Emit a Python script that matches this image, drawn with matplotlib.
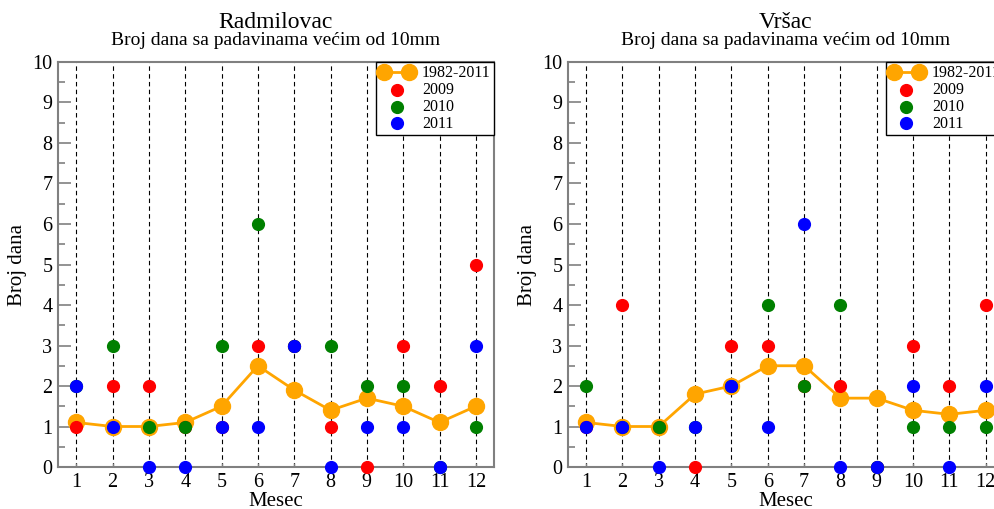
import matplotlib
matplotlib.use('Agg')
import matplotlib.pyplot as plt

plt.rcParams['font.family'] = ['Liberation Serif', 'DejaVu Serif']

months = [1, 2, 3, 4, 5, 6, 7, 8, 9, 10, 11, 12]

# Radmilovac
rad_avg = [1.1, 1.0, 1.0, 1.1, 1.5, 2.5, 1.9, 1.4, 1.7, 1.5, 1.1, 1.5]
rad_2009 = [1, 2, 2, 1, 1, 3, 3, 1, 0, 3, 2, 5]
rad_2010 = [2, 3, 1, 1, 3, 6, 3, 3, 2, 2, 0, 1]
rad_2011 = [2, 1, 0, 0, 1, 1, 3, 0, 1, 1, 0, 3]

# Vrsac
vrs_avg = [1.1, 1.0, 1.0, 1.8, 2.0, 2.5, 2.5, 1.7, 1.7, 1.4, 1.3, 1.4]
vrs_2009 = [1, 4, 1, 0, 3, 3, 2, 2, 0, 3, 2, 4]
vrs_2010 = [2, 1, 1, 1, 2, 4, 2, 4, 0, 1, 1, 1]
vrs_2011 = [1, 1, 0, 1, 2, 1, 6, 0, 0, 2, 0, 2]

subtitle = 'Broj dana sa padavinama većim od 10mm'

fig = plt.figure(figsize=(9.94, 5.09), dpi=100)
ax1 = fig.add_axes([0.0584, 0.0825, 0.4386, 0.7957])
ax2 = fig.add_axes([0.5714, 0.0825, 0.4386, 0.7957])


def draw(ax, name, avg, y09, y10, y11):
    for m in months:
        ax.axvline(m, color='black', ls=(0, (4, 3)), lw=0.8, zorder=1)
    ax.plot(months, avg, color='orange', lw=2, marker='o', ms=11.5,
            label='1982-2011', zorder=3, clip_on=False)
    ax.scatter(months, y09, s=72, color='red', label='2009', zorder=4, clip_on=False)
    ax.scatter(months, y10, s=72, color='green', label='2010', zorder=5, clip_on=False)
    ax.scatter(months, y11, s=72, color='blue', label='2011', zorder=6, clip_on=False)

    ax.set_xlim(0.5, 12.5)
    ax.set_ylim(0, 10)
    ax.set_xticks(months)
    ax.set_yticks(range(0, 11))
    ax.set_yticks([i + 0.5 for i in range(10)], minor=True)
    ax.tick_params(axis='y', which='major', direction='in', length=9, width=1.2,
                   color='gray', labelsize=14.5, pad=4)
    ax.tick_params(axis='y', which='minor', direction='in', length=5, width=1.2,
                   color='gray')
    ax.tick_params(axis='x', direction='in', length=3, width=1, color='gray',
                   labelsize=14.5, pad=4)
    for s in ax.spines.values():
        s.set_color('gray')
        s.set_linewidth(1.5)
    ax.set_xlabel('Mesec', fontsize=15, labelpad=0)
    ax.set_ylabel('Broj dana', fontsize=15)
    ax.text(0.5, 1.097, name, transform=ax.transAxes, ha='center',
            va='center', fontsize=17)
    ax.text(0.5, 1.052, subtitle, transform=ax.transAxes, ha='center',
            va='center', fontsize=14)
    leg = ax.legend(loc='upper right', numpoints=2, scatterpoints=1, fontsize=11.5,
                    fancybox=False, borderaxespad=0, handlelength=2.2,
                    labelspacing=0.05, borderpad=0.2, handletextpad=0.5, framealpha=1)
    leg.get_frame().set_edgecolor('black')
    leg.get_frame().set_linewidth(1)


draw(ax1, 'Radmilovac', rad_avg, rad_2009, rad_2010, rad_2011)
draw(ax2, 'Vršac', vrs_avg, vrs_2009, vrs_2010, vrs_2011)

fig.savefig('out.png', dpi=100)
